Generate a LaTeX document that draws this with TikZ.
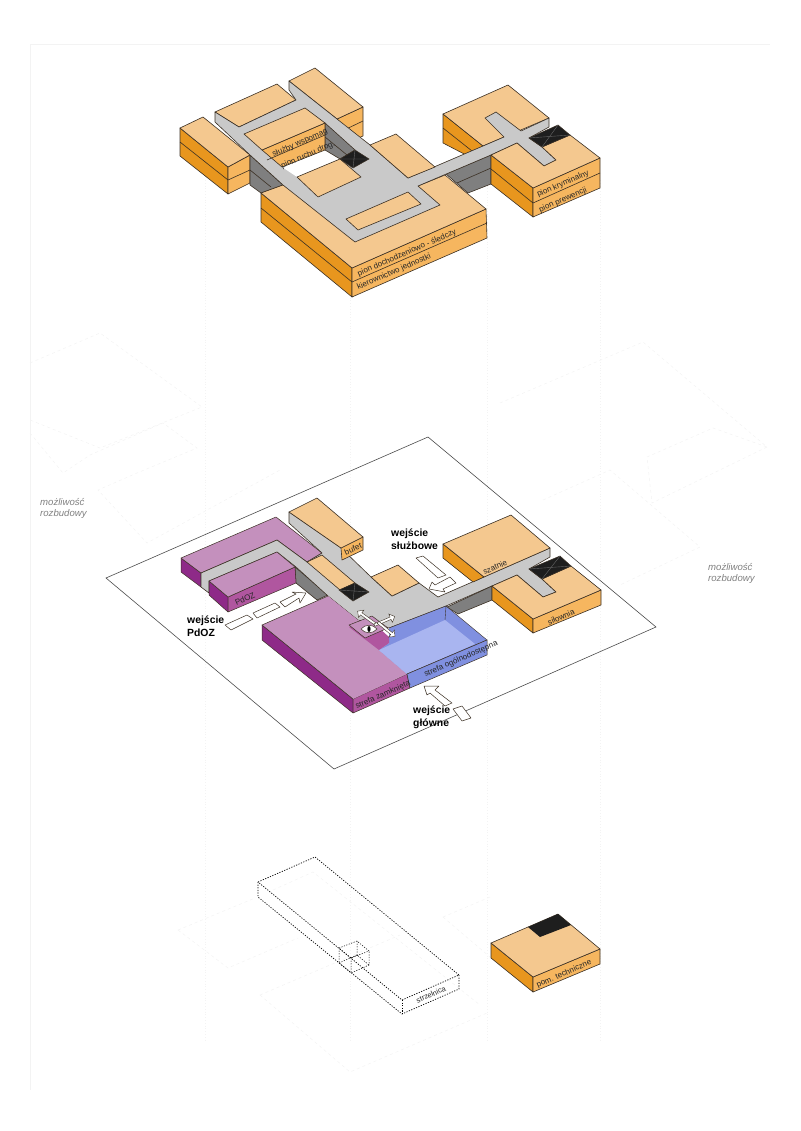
\documentclass[tikz,border=0pt]{standalone}
\usepackage{fontspec}
\setmainfont{Liberation Sans}
\usetikzlibrary{shapes.arrows}
\definecolor{ink}{HTML}{3B3024}
\definecolor{orangetop}{HTML}{F4C88F}
\definecolor{orangeleft}{HTML}{E8961E}
\definecolor{orangeright}{HTML}{F6B65F}
\definecolor{corridor}{HTML}{C9C9C9}
\definecolor{wallgray}{HTML}{7F7F7F}
\definecolor{shaftc}{HTML}{1E1E1E}
\definecolor{purpletop}{HTML}{C490BD}
\definecolor{purpleleft}{HTML}{8E2A88}
\definecolor{purpleright}{HTML}{B0569F}
\definecolor{bluerim}{HTML}{8090E0}
\definecolor{bluefloor}{HTML}{A9B5F0}
\definecolor{ghostc}{HTML}{F3F3F3}
\tikzset{
 otop/.style={fill=orangetop,draw=ink,line width=.6pt,line join=round},
 oleft/.style={fill=orangeleft,draw=ink,line width=.6pt,line join=round},
 oright/.style={fill=orangeright,draw=ink,line width=.6pt,line join=round},
 walkway/.style={fill=corridor,draw=ink,line width=.6pt,line join=round},
 wallface/.style={fill=wallgray,draw=ink,line width=.6pt,line join=round},
 shaftbox/.style={fill=shaftc,draw=ink,line width=.5pt},
 ptop/.style={fill=purpletop,draw=ink,line width=.5pt,line join=round},
 pleft/.style={fill=purpleleft,draw=ink,line width=.5pt,line join=round},
 pright/.style={fill=purpleright,draw=ink,line width=.5pt,line join=round},
 brim/.style={fill=bluerim,draw=ink,line width=.5pt,line join=round},
 midline/.style={draw=ink,line width=.6pt},
 dotbox/.style={draw=black,line width=.7pt,dash pattern=on 1.2pt off 1.4pt},
 ghost/.style={draw=ghostc,line width=.5pt,dashed},
 ghostv/.style={draw=ghostc,dotted,line width=.8pt},
 outarrow/.style={fill=white,draw=ink,line width=.5pt,line join=round},
 lbl/.style={font=\fontsize{8}{9}\selectfont,rotate=23.5,inner sep=0pt,text=black!85},
 entry/.style={font=\fontsize{10.4}{12.5}\selectfont\bfseries,align=left,anchor=north west,inner sep=0pt},
 extension/.style={font=\fontsize{9.6}{11.5}\selectfont\itshape,align=left,anchor=north west,inner sep=0pt,text=black!50},
 eyearrow/.style={single arrow,fill=white,draw=ink,line width=.4pt,minimum height=22pt,minimum width=9pt,inner sep=.6pt,single arrow head extend=2pt},
}
\begin{document}
\begin{tikzpicture}[x=1pt,y=-1pt]
\useasboundingbox (0,0) rectangle (800,1131);
\draw[draw=ghostc,line width=.5pt] (30,1090)--(30,44)--(770,44);
\foreach \x in {205,350,487,600}{
 \draw[ghostv] (\x,180)--(\x,1040);
}
\draw[ghost] (30,363)--(100,333)--(202,407)--(100,448)--(30,420);
\draw[ghost] (30,433)--(63,473)--(90,455)--(163,423)--(197,448)--(137,473)--(98,490)--(147,543)--(280,470);
\draw[ghost] (500,403)--(643,342)--(767,447)--(652,503)--(647,457)--(713,428)--(767,447);
\draw[ghost] (543,500)--(610,470)--(700,547)--(620,585);
\draw[ghost] (178,930)--(255,898);
\draw[ghost] (178,930)--(228,968)--(298,938);
\draw[ghost] (260,995)--(350,1072)--(487,1013);
\draw[ghost] (260,995)--(400,935);
\draw[ghost] (443,917)--(490,897);
\draw[ghost] (443,917)--(490,957);
\draw[ghost] (273,890)--(313,872)--(480,1005);

\draw[oleft] (180,128)--(228,167)--(228,194)--(180,156)--cycle;
\draw[midline] (180,142)--(228,180);
\draw[oright] (228,167)--(250,155)--(250,183)--(228,194)--cycle;
\draw[midline] (228,180)--(250,170);
\draw[otop] (180,128)--(203,117)--(250,155)--(228,167)--cycle;
\draw[wallface] (250,155)--(283,185)--(261,193)--(250,185)--cycle;
\draw[midline] (250,170)--(271,187);
\draw[oright] (337,119)--(363,107)--(363,136)--(345,144)--cycle;
\draw[midline] (340,132)--(363,121);
\draw[otop] (289,81)--(315,68)--(363,107)--(337,119)--cycle;
\draw[otop] (215,112)--(277,84)--(296,100)--(239,127)--cycle;
\draw[wallface] (446,174)--(491,155)--(491,184)--(468,193)--cycle;
\draw[midline] (457,183)--(491,168);
\draw[oleft] (443,114)--(483,146)--(468,156)--(443,143)--cycle;
\draw[midline] (443,128)--(472,151);
\draw[otop] (443,114)--(508,85)--(549,118)--(483,146)--cycle;
\draw[oleft] (261,193)--(352,268)--(352,297)--(261,222)--cycle;
\draw[midline] (261,208)--(352,282);
\draw[oright] (352,268)--(486,209)--(487,238)--(352,297)--cycle;
\draw[midline] (352,282)--(487,223);
\draw[otop] (261,193)--(352,268)--(486,209)--(445,175)--(418,186)--(283,185)--cycle;
\draw[oleft] (491,155)--(533,188)--(533,217)--(491,184)--cycle;
\draw[midline] (491,169)--(533,203);
\draw[oright] (533,188)--(600,158)--(600,188)--(533,217)--cycle;
\draw[midline] (533,203)--(600,173);
\draw[walkway] (215,112)--(239,127)--(296,100)--(289,90)--(289,81)--(337,119)--(370,145)--(408,178)--(434,167)--(504,137)--(485,118)--(496,112)--(521,131)--(549,118)--(549,127)--(529,138)--(542,147)--(556,160)--(544,166)--(517,143)--(491,155)--(418,186)--(440,205)--(355,242)--(283,185)--(250,155)--(215,122)--cycle;
\draw[otop] (491,155)--(517,143)--(544,166)--(556,160)--(542,147)--(570,135)--(600,158)--(533,188)--cycle;
\draw[shaftbox] (529,138)--(558,125)--(570,135)--(542,147)--cycle;
\draw[black!60,line width=.4pt] (529,138)--(570,135) (558,125)--(542,147);
\draw[otop] (370,145)--(396,134)--(435,167)--(408,178)--cycle;
\fill[white] (282,167)--(325,150)--(340,159)--(297,177)--cycle;
\draw[wallface] (325,123)--(355,150)--(340,159)--(325,150)--cycle;
\draw[midline] (325,137)--(347,155);
\draw[oright] (262,150)--(325,123)--(325,150)--(282,167)--cycle;
\draw[midline] (267,160)--(325,135);
\draw[otop] (244,134)--(305,108)--(325,123)--(262,150)--cycle;
\draw[otop] (297,177)--(340,159)--(361,177)--(318,197)--cycle;
\draw[shaftbox] (340,159)--(355,150)--(369,159)--(353,168)--cycle;
\draw[black!60,line width=.4pt] (340,159)--(369,159) (355,150)--(353,168);
\draw[otop] (346,219)--(408,192)--(421,204)--(358,230)--cycle;
\node[lbl] (sluzby) at (300,143) {służby wspomag};
\node[lbl] (ruchu) at (308,155) {pion ruchu drog.};
\node[lbl] (dochodz) at (407,253) {pion dochodzeniowo - śledczy};
\node[lbl] (kierown) at (394,272) {kierownictwo jednostki};
\node[lbl] (kryminal) at (563,184) {pion kryminalny};
\node[lbl] (prewenc) at (563,200) {pion prewencji};

\draw[draw=black!70,line width=.6pt] (428,437)--(106,578)--(334,769)--(656,627)--cycle;

\draw[pleft] (181,558)--(201,573)--(201,587)--(181,572)--cycle;
\draw[ptop] (181,558)--(276,517)--(322,553)--(307,562)--(277,540)--(201,573)--cycle;
\draw[wallface] (295,567)--(328,595)--(317,600)--(296,583)--cycle;
\draw[walkway] (289,512)--(341,548)--(371,577)--(392,596)--(419,583)--(438,597)--(550,548)--(550,557)--(529,569)--(542,579)--(556,592)--(543,597)--(517,575)--(492,586)--(446,606)--(389,628)--(358,620)--(328,596)--(296,567)--(277,552)--(209,581)--(209,593)--(201,587)--(201,573)--(277,540)--(307,562)--(322,553)--(289,523)--cycle;
\draw[pleft] (209,581)--(228,597)--(228,612)--(209,595)--cycle;
\draw[pright] (228,597)--(295,567)--(296,583)--(228,612)--cycle;
\draw[ptop] (209,581)--(277,552)--(295,567)--(228,597)--cycle;
\draw[oright] (341,548)--(363,537)--(363,550)--(342,560)--cycle;
\draw[otop] (289,512)--(317,498)--(363,537)--(341,548)--cycle;
\draw[otop] (307,562)--(322,555)--(355,583)--(340,590)--cycle;
\draw[shaftbox] (339,590)--(355,583)--(369,592)--(353,601)--cycle;
\draw[black!60,line width=.4pt] (339,590)--(369,592) (355,583)--(353,601);
\draw[otop] (371,577)--(398,565)--(419,583)--(392,596)--cycle;
\draw[oleft] (443,544)--(484,577)--(473,582)--(443,558)--cycle;
\draw[otop] (443,544)--(511,515)--(550,548)--(484,577)--cycle;
\draw[wallface] (447,607)--(492,586)--(492,600)--(458,614)--cycle;
\draw[oleft] (492,586)--(533,619)--(533,633)--(492,600)--cycle;
\draw[oright] (533,619)--(601,590)--(601,605)--(533,633)--cycle;
\draw[otop] (492,586)--(517,575)--(543,597)--(556,592)--(542,579)--(571,566)--(601,590)--(533,619)--cycle;
\draw[shaftbox] (529,569)--(560,556)--(571,566)--(542,579)--cycle;
\draw[black!60,line width=.4pt] (529,569)--(571,566) (560,556)--(542,579);
\draw[pleft] (262,625)--(353,699)--(353,713)--(262,640)--cycle;
\draw[pright] (353,699)--(407,674)--(410,688)--(353,713)--cycle;
\fill[purpletop] (262,625)--(328,596)--(358,620)--(389,643)--(379,650)--(407,674)--(353,699)--cycle;
\draw[ink,line width=.5pt] (353,699)--(262,625)--(328,596);
\fill[bluerim] (389,628)--(446,606)--(487,640)--(407,674)--(379,650)--(389,643)--cycle;
\fill[bluefloor] (379,650)--(445,620)--(475,644)--(407,674)--cycle;
\draw[ink,line width=.4pt] (389,628)--(446,606)--(487,640)--(407,674) (446,606)--(445,620);
\draw[brim] (407,674)--(487,640)--(487,655)--(410,688)--cycle;
\fill[purpleright] (349,627)--(368,618)--(389,637)--(389,643)--(379,650)--cycle;
\draw[ptop] (349,625)--(372,616)--(388,628)--(365,638)--cycle;
\node[eyearrow,rotate=144] (arrnw) at (367,618) {};
\node[eyearrow,rotate=23] (arre) at (384,621) {};
\node[eyearrow,rotate=-40] (arrse) at (386,629) {};
\draw[fill=white,draw=ink,line width=.5pt] (361,629) .. controls (365,624) and (373,624) .. (377,629) .. controls (373,634) and (365,634) .. (361,629);
\fill[black] (369,629) ellipse (1.6 and 3);
\draw[outarrow] (225,625)--(247,615)--(253,619)--(231,630)--cycle;
\draw[outarrow] (253,613)--(275,603)--(280,607)--(257,618)--cycle;
\draw[outarrow] (280,602)--(296,594)--(292,592)--(306,593)--(300,603)--(299,598)--(285,607)--cycle;
\draw[outarrow] (416,558)--(423,556)--(446,575)--(438,578)--cycle;
\draw[outarrow] (450,577)--(456,583)--(443,589)--(445,592)--(429,589)--(432,582)--(435,585)--cycle;
\draw[outarrow] (424,686)--(439,686)--(435,690)--(452,703)--(445,706)--(430,693)--(427,695)--cycle;
\draw[outarrow] (453,709)--(462,706)--(471,718)--(462,721)--cycle;
\node[lbl] (bufet) at (353,549) {bufet};
\node[lbl] (pdoz) at (245,599) {PdOZ};
\node[lbl] (szatnie) at (495,567) {szatnie};
\node[lbl] (silownia) at (561,617) {siłownia};
\node[lbl] (zamknieta) at (383,695) {strefa zamknięta};
\node[lbl] (ogolno) at (461,659) {strefa ogólnodostępna};
\node[entry] (wpdoz) at (187,616) {wejście\\PdOZ};
\node[entry] (wsluzb) at (391,529) {wejście\\służbowe};
\node[entry] (wglowne) at (413,706) {wejście\\główne};
\node[extension] (rozbl) at (40,498) {możliwość\\rozbudowy};
\node[extension] (rozbr) at (708,563) {możliwość\\rozbudowy};

\draw[dotbox] (258,882)--(315,857)--(459,975)--(402,1000)--cycle;
\draw[dotbox] (258,882)--(258,897)--(402,1014)--(459,989)--(459,975);
\draw[dotbox] (402,1000)--(402,1014);
\draw[dotbox,line width=.5pt] (339,948)--(357,941)--(369,951)--(351,958)--cycle;
\draw[dotbox,line width=.5pt] (339,948)--(339,963)--(351,973)--(369,965)--(369,951);
\draw[dotbox,line width=.5pt] (351,958)--(351,973) (339,963)--(357,955)--(369,965) (357,941)--(357,955);
\node[lbl,font=\fontsize{7.4}{9}\selectfont] (strzel) at (431,994.5) {strzelnica};

\draw[oleft] (491,943)--(533,977)--(533,992)--(491,958)--cycle;
\draw[oright] (533,977)--(600,949)--(600,964)--(533,992)--cycle;
\draw[otop] (491,943)--(558,914)--(600,949)--(533,977)--cycle;
\fill[shaftc] (528,927)--(558,914)--(571,925)--(540,937)--cycle;
\node[lbl] (techn) at (564,974) {pom. techniczne};
\end{tikzpicture}
\end{document}
